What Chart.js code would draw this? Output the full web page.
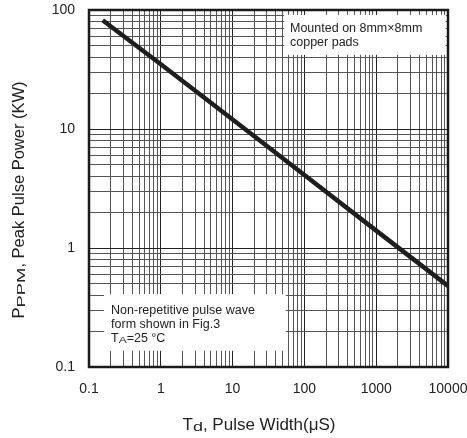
<!DOCTYPE html>
<html>
<head>
<meta charset="utf-8">
<script src="https://cdn.jsdelivr.net/npm/chart.js@4.4.1/dist/chart.umd.min.js"></script>
<style>
  html, body { margin: 0; padding: 0; background: #fff; }
  #wrap { width: 467px; height: 438px; position: relative; }
</style>
</head>
<body>
<div id="wrap"><canvas id="c" width="467" height="438"></canvas></div>
<script>
// pulse width (uS) vs peak pulse power (kW)
const pulseWidth = [0.155, 1, 10, 100, 1000, 10000];
const peakPower = [82, 35, 12, 4.1, 1.4, 0.48];

const xMajor = [0.1, 1, 10, 100, 1000, 10000];
const yMajor = [0.1, 1, 10, 100];

// note boxes, in data units
const noteTop = { x0: 52, x1: 9300, y0: 91, y1: 42, lines: ["Mounted on 8mm×8mm", "copper pads"] };
const noteBottom = { x0: 0.162, x1: 55, y0: 0.41, y1: 0.137 };

function logTicks(majors) {
  const out = [];
  for (let i = 0; i < majors.length; i++) {
    out.push(majors[i]);
    if (i < majors.length - 1) {
      for (let k = 2; k <= 9; k++) out.push(+(majors[i] * k).toPrecision(3));
    }
  }
  return out;
}
const isMajor = (v, majors) => majors.some(m => Math.abs(m - v) / m < 1e-6);

const FONT = "'Liberation Sans', Arial, sans-serif";

// parts: [text, fontSize, baselineShift, stretchedWidth?]
function partWidth(ctx, p) {
  ctx.font = p[1] + "px " + FONT;
  return p[3] || ctx.measureText(p[0]).width;
}
function drawParts(ctx, parts, x, y) {
  parts.forEach(p => {
    const w = partWidth(ctx, p);
    const natural = ctx.measureText(p[0]).width;
    ctx.save();
    ctx.translate(x, y + p[2]);
    ctx.scale(w / natural, 1);
    ctx.fillText(p[0], 0, 0);
    ctx.restore();
    x += w;
  });
}

const notes = {
  id: "notes",
  beforeDatasetsDraw(chart) {
    const { ctx, scales: { x, y } } = chart;
    ctx.save();
    ctx.fillStyle = "#fff";
    [noteTop, noteBottom].forEach(b => {
      const l = x.getPixelForValue(b.x0), r = x.getPixelForValue(b.x1);
      const t = y.getPixelForValue(b.y0), bt = y.getPixelForValue(b.y1);
      ctx.fillRect(l, t, r - l, bt - t);
    });
    ctx.fillStyle = "#222";
    ctx.font = "12.5px " + FONT;
    ctx.textBaseline = "middle";
    const tx = x.getPixelForValue(noteTop.x0) + 6;
    const ty = y.getPixelForValue(noteTop.y0);
    ctx.fillText(noteTop.lines[0], tx, ty + 14);
    ctx.fillText(noteTop.lines[1], tx, ty + 28);

    const bx = x.getPixelForValue(noteBottom.x0) + 7;
    const by = y.getPixelForValue(noteBottom.y0);
    ctx.fillText("Non-repetitive pulse wave", bx, by + 16);
    ctx.fillText("form shown in Fig.3", bx, by + 30);
    drawParts(ctx, [["T", 12.5, 0], ["A", 9, 2, 8], ["=25 °C", 12.5, 0]], bx, by + 44);
    ctx.restore();
  },
  afterDatasetsDraw(chart) {
    const { ctx, chartArea: a } = chart;
    ctx.save();
    ctx.strokeStyle = "#1a1a1a";
    ctx.lineWidth = 2.5;
    ctx.strokeRect(a.left, a.top, a.right - a.left, a.bottom - a.top);

    ctx.fillStyle = "#222";
    ctx.textBaseline = "alphabetic";
    ctx.textAlign = "left";
    // x title
    const xParts = [["T", 17, 0], ["d", 12, 1, 10], [", Pulse Width(μS)", 17, 0]];
    let total = xParts.reduce((s, p) => s + partWidth(ctx, p), 0);
    drawParts(ctx, xParts, 259 - total / 2, 430);
    // y title
    ctx.translate(24, 200);
    ctx.rotate(-Math.PI / 2);
    const yParts = [["P", 16.5, 0], ["PPM", 11.5, 1, 40], [", Peak Pulse Power (KW)", 16.5, 0]];
    total = yParts.reduce((s, p) => s + partWidth(ctx, p), 0);
    drawParts(ctx, yParts, -total / 2, 0);
    ctx.restore();
  }
};

new Chart(document.getElementById("c"), {
  type: "line",
  data: {
    datasets: [{
      data: pulseWidth.map((v, i) => ({ x: v, y: peakPower[i] })),
      borderColor: "#1e1e1e",
      borderWidth: 4.5,
      pointRadius: 0,
      tension: 0,
      fill: false
    }]
  },
  options: {
    responsive: false,
    animation: false,
    devicePixelRatio: 1,
    layout: { padding: { left: 0, top: 10, right: 19, bottom: 0 } },
    plugins: { legend: { display: false }, tooltip: { enabled: false } },
    scales: {
      x: {
        type: "logarithmic",
        min: 0.1, max: 10000,
        afterBuildTicks: s => { s.ticks = logTicks(xMajor).map(v => ({ value: v })); },
        afterFit: s => { s.height = 71; s.paddingRight = 0; s.paddingLeft = 0; },
        ticks: {
          autoSkip: false, maxRotation: 0, padding: 14,
          color: "#222", font: { family: FONT, size: 14 },
          callback: v => isMajor(v, xMajor) ? String(v) : ""
        },
        grid: {
          drawTicks: false,
          color: c => isMajor(c.tick.value, xMajor) ? "#222" : "#555",
          lineWidth: 1
        },
        border: { display: false }
      },
      y: {
        type: "logarithmic",
        min: 0.1, max: 100,
        afterBuildTicks: s => { s.ticks = logTicks(yMajor).map(v => ({ value: v })); },
        afterFit: s => { s.width = 89; s.paddingTop = 0; s.paddingBottom = 0; },
        ticks: {
          autoSkip: false, padding: 14,
          color: "#222", font: { family: FONT, size: 14 },
          callback: v => isMajor(v, yMajor) ? String(v) : ""
        },
        grid: {
          drawTicks: false,
          color: c => isMajor(c.tick.value, yMajor) ? "#222" : "#555",
          lineWidth: 1
        },
        border: { display: false }
      }
    }
  },
  plugins: [notes]
});
</script>
</body>
</html>
